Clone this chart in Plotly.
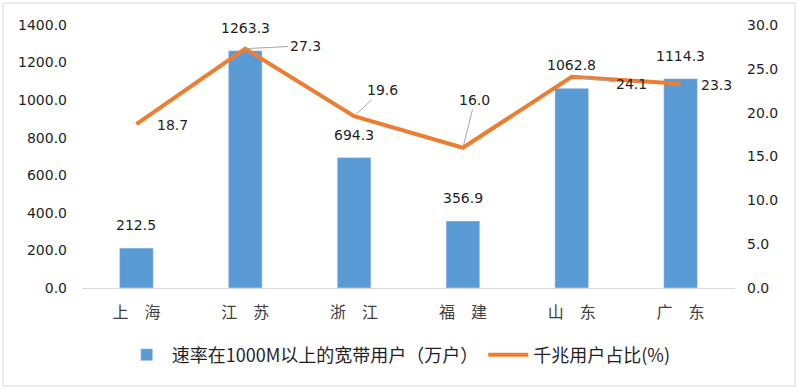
import plotly.graph_objects as go

categories = ["上\u3000海", "江\u3000苏", "浙\u3000江", "福\u3000建", "山\u3000东", "广\u3000东"]
users = [212.5, 1263.3, 694.3, 356.9, 1062.8, 1114.3]
share = [18.7, 27.3, 19.6, 16.0, 24.1, 23.3]
bar_name = "速率在1000M以上的宽带用户（万户）"
line_name = "千兆用户占比(%)"
left_ticks = [0, 200, 400, 600, 800, 1000, 1200, 1400]
right_ticks = [0, 5, 10, 15, 20, 25, 30]

# label offsets (pixels) for the line labels: (ax, ay, arrow)
line_label_offsets = [(36, 1, False), (60, -3, True), (28, -26, True), (12, -48, True), (60, 7, True), (36, 1, False)]

BLUE = "#5B9BD5"
ORANGE = "#ED7D31"
NUM_FONT = "DejaVu Sans"
CJK_FONT = "Noto Sans CJK SC"
TXT = "#1F1F1F"

fig = go.Figure()
fig.add_trace(go.Bar(x=categories, y=users, name=bar_name, marker_color=BLUE,
                     width=0.31, yaxis="y"))
fig.add_trace(go.Scatter(x=categories, y=share, name=line_name, mode="lines",
                         line=dict(color=ORANGE, width=4), yaxis="y2"))

annotations = []
for c, v in zip(categories, users):
    annotations.append(dict(x=c, y=v, xref="x", yref="y", text=f"{v:.1f}", showarrow=False,
                            yshift=23, font=dict(family=NUM_FONT, size=14, color=TXT)))
for c, v, (ax, ay, arr) in zip(categories, share, line_label_offsets):
    if arr:
        annotations.append(dict(x=c, y=v, xref="x", yref="y2", text=f"{v:.1f}", showarrow=True,
                                arrowhead=0, arrowwidth=1, arrowcolor="#A6A6A6", ax=ax, ay=ay,
                                standoff=2, font=dict(family=NUM_FONT, size=14, color=TXT)))
    else:
        annotations.append(dict(x=c, y=v, xref="x", yref="y2", text=f"{v:.1f}", showarrow=False,
                                xshift=ax, yshift=-ay, font=dict(family=NUM_FONT, size=14, color=TXT)))

fig.update_layout(
    width=798, height=389,
    margin=dict(l=82, r=63, t=25, b=101),
    paper_bgcolor="white", plot_bgcolor="white",
    bargap=0.69,
    showlegend=True,
    legend=dict(orientation="h", x=0.485, xanchor="center", y=-0.255, yanchor="middle",
                font=dict(family=CJK_FONT, size=18, color=TXT), itemwidth=40,
                traceorder="normal"),
    xaxis=dict(showline=True, linecolor="#D9D9D9", linewidth=1, ticks="", showgrid=False,
               tickfont=dict(family=CJK_FONT, size=16, color="#404040"), ticklabelstandoff=10),
    yaxis=dict(range=[0, 1400], tickvals=left_ticks, ticktext=[f"{t:.1f}" for t in left_ticks],
               showgrid=False, zeroline=False, showline=False,
               tickfont=dict(family=NUM_FONT, size=14, color=TXT), ticklabelstandoff=14),
    yaxis2=dict(range=[0, 30], tickvals=right_ticks, ticktext=[f"{t:.1f}" for t in right_ticks],
                overlaying="y", side="right", showgrid=False, zeroline=False, showline=False,
                tickfont=dict(family=NUM_FONT, size=14, color=TXT), ticklabelstandoff=11),
    annotations=annotations,
    shapes=[dict(type="rect", xref="paper", yref="paper",
                 x0=-79/653, x1=(795-82)/653, y0=-(386-288)/263, y1=(288-3)/263,
                 line=dict(color="#D9D9D9", width=1), fillcolor="rgba(0,0,0,0)")],
)

fig.write_html("out.html", post_script="document.body.style.margin='0';",
               config={"displayModeBar": False})
